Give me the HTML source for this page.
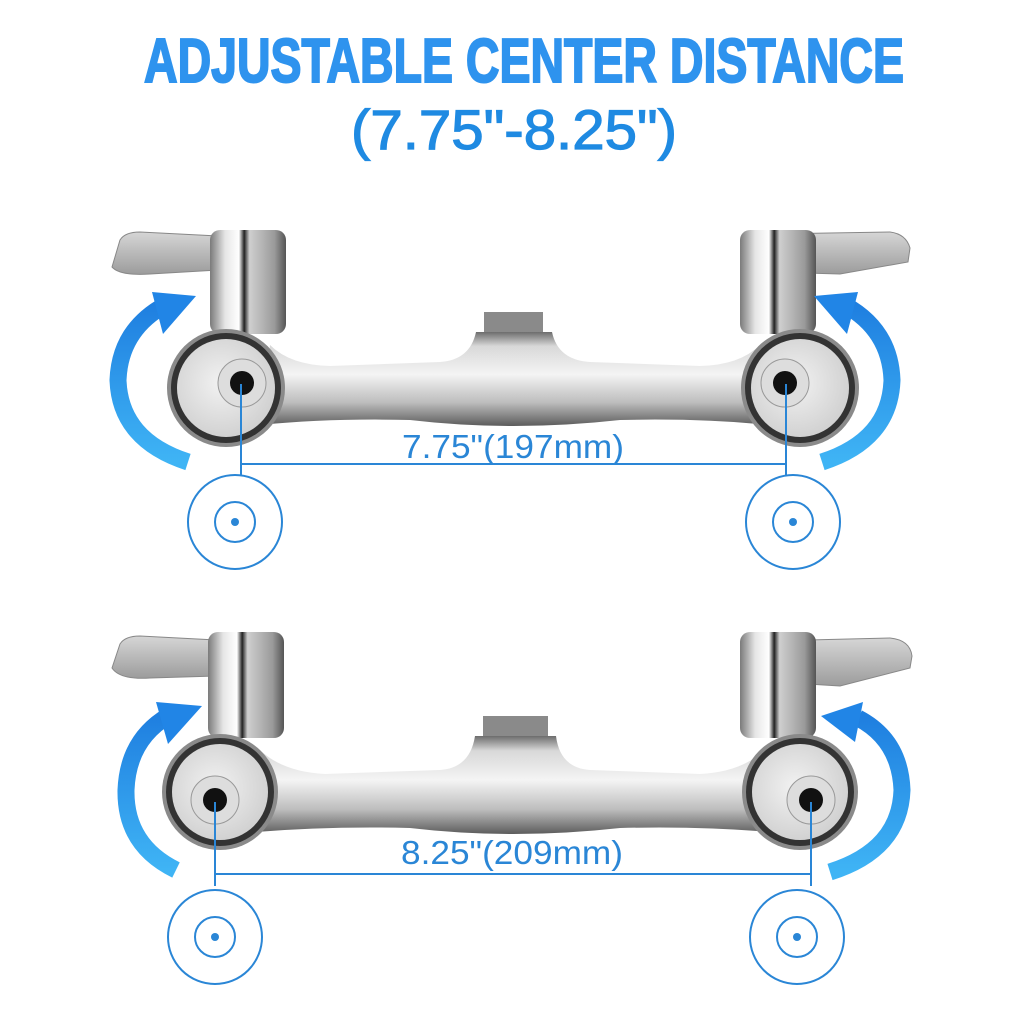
<!DOCTYPE html>
<html><head><meta charset="utf-8"><style>html,body{margin:0;padding:0;background:#fff}svg{display:block}</style></head>
<body>
<svg width="1024" height="1024" viewBox="0 0 1024 1024" xmlns="http://www.w3.org/2000/svg">
<defs>
<linearGradient id="chrome" x1="0" y1="0" x2="0" y2="1">
<stop offset="0" stop-color="#6d6d6d"/><stop offset="0.15" stop-color="#d8d8d8"/><stop offset="0.45" stop-color="#f4f4f4"/><stop offset="0.75" stop-color="#bdbdbd"/><stop offset="1" stop-color="#5c5c5c"/>
</linearGradient>
<linearGradient id="cyl" x1="0" y1="0" x2="1" y2="0">
<stop offset="0" stop-color="#7a7a7a"/><stop offset="0.2" stop-color="#e6e6e6"/><stop offset="0.38" stop-color="#ffffff"/><stop offset="0.45" stop-color="#222"/><stop offset="0.52" stop-color="#cfcfcf"/><stop offset="0.85" stop-color="#9a9a9a"/><stop offset="1" stop-color="#555"/>
</linearGradient>
<linearGradient id="lever" x1="0" y1="0" x2="0" y2="1">
<stop offset="0" stop-color="#d6d6d6"/><stop offset="1" stop-color="#9c9c9c"/>
</linearGradient>
<linearGradient id="arrow" x1="0" y1="0" x2="0" y2="1">
<stop offset="0" stop-color="#1f7fe0"/><stop offset="1" stop-color="#3fb4f5"/>
</linearGradient>
<radialGradient id="plate" cx="0.45" cy="0.45" r="0.6">
<stop offset="0" stop-color="#f2f2f2"/><stop offset="1" stop-color="#cfcfcf"/>
</radialGradient>
</defs>

<text x="524" y="82" font-family="Liberation Sans, sans-serif" font-weight="bold" font-size="62" fill="#2e93ee" stroke="#2e93ee" stroke-width="2" text-anchor="middle" textLength="760" lengthAdjust="spacingAndGlyphs">ADJUSTABLE CENTER DISTANCE</text>
<text x="514" y="149" font-family="Liberation Sans, sans-serif" font-size="56" fill="#1f8ae2" stroke="#1f8ae2" stroke-width="1.2" text-anchor="middle" textLength="326" lengthAdjust="spacingAndGlyphs">(7.75"-8.25")</text>

<!-- TOP FAUCET -->
<g>
<path d="M112 267 L120 240 Q125 232 140 232 L218 236 L218 270 L150 274 Q120 276 112 267Z" fill="url(#lever)" stroke="#888" stroke-width="1"/>
<path d="M770 234 L890 232 Q906 234 910 248 L908 262 L840 274 L770 272Z" fill="url(#lever)" stroke="#888" stroke-width="1"/>
<rect x="210" y="230" width="76" height="104" rx="10" fill="url(#cyl)"/>
<rect x="740" y="230" width="76" height="104" rx="10" fill="url(#cyl)"/>
<path d="M484 312 H543 V332 H484Z" fill="#8a8a8a"/>
<path d="M270 345 Q290 365 330 366 L440 362 Q470 360 476 332 H552 Q558 360 590 362 L700 366 Q740 365 760 345 L770 425 Q700 418 620 420 Q512 432 410 420 Q330 418 260 425Z" fill="url(#chrome)"/>
<circle cx="226" cy="388" r="59" fill="#8a8a8a"/><circle cx="226" cy="388" r="55" fill="#333"/><circle cx="226" cy="388" r="49" fill="url(#plate)"/>
<circle cx="800" cy="388" r="59" fill="#8a8a8a"/><circle cx="800" cy="388" r="55" fill="#333"/><circle cx="800" cy="388" r="49" fill="url(#plate)"/>
<circle cx="242" cy="383" r="24" fill="#ddd" stroke="#999"/><circle cx="242" cy="383" r="12" fill="#111"/>
<circle cx="785" cy="383" r="24" fill="#ddd" stroke="#999"/><circle cx="785" cy="383" r="12" fill="#111"/>
<path d="M188 462 Q120 440 118 380 Q120 330 165 305" fill="none" stroke="url(#arrow)" stroke-width="17"/>
<path d="M152 292 L196 296 L163 334Z" fill="#2185e6"/>
<path d="M822 462 Q890 440 892 380 Q890 330 845 305" fill="none" stroke="url(#arrow)" stroke-width="17"/>
<path d="M858 292 L814 296 L847 334Z" fill="#2185e6"/>
<g stroke="#2a86d6" stroke-width="2" fill="none">
<path d="M241 384 V475 M786 384 V475 M241 464 H786"/>
<circle cx="235" cy="522" r="47"/><circle cx="235" cy="522" r="20"/>
<circle cx="793" cy="522" r="47"/><circle cx="793" cy="522" r="20"/>
</g>
<circle cx="235" cy="522" r="4" fill="#2a86d6"/><circle cx="793" cy="522" r="4" fill="#2a86d6"/>
<text x="513" y="458" font-family="Liberation Sans, sans-serif" font-size="33" fill="#2a86d6" text-anchor="middle" textLength="222" lengthAdjust="spacingAndGlyphs">7.75"(197mm)</text>
</g>

<!-- BOTTOM FAUCET -->
<g>
<path d="M112 668 L120 644 Q125 636 140 636 L216 640 L216 676 L150 678 Q120 680 112 668Z" fill="url(#lever)" stroke="#888" stroke-width="1"/>
<path d="M808 640 L890 638 Q910 640 912 656 L910 668 L840 686 L808 684Z" fill="url(#lever)" stroke="#888" stroke-width="1"/>
<rect x="208" y="632" width="76" height="106" rx="10" fill="url(#cyl)"/>
<rect x="740" y="632" width="76" height="106" rx="10" fill="url(#cyl)"/>
<path d="M483 716 H548 V736 H483Z" fill="#8a8a8a"/>
<path d="M262 752 Q285 772 325 774 L440 770 Q470 768 475 736 H556 Q560 768 590 770 L700 774 Q740 772 762 752 L770 832 Q700 826 620 828 Q512 840 410 828 Q330 826 256 832Z" fill="url(#chrome)"/>
<circle cx="220" cy="792" r="58" fill="#8a8a8a"/><circle cx="220" cy="792" r="54" fill="#333"/><circle cx="220" cy="792" r="48" fill="url(#plate)"/>
<circle cx="800" cy="792" r="58" fill="#8a8a8a"/><circle cx="800" cy="792" r="54" fill="#333"/><circle cx="800" cy="792" r="48" fill="url(#plate)"/>
<circle cx="215" cy="800" r="24" fill="#ddd" stroke="#999"/><circle cx="215" cy="800" r="12" fill="#111"/>
<circle cx="811" cy="800" r="24" fill="#ddd" stroke="#999"/><circle cx="811" cy="800" r="12" fill="#111"/>
<path d="M176 870 Q125 845 126 790 Q128 740 168 716" fill="none" stroke="url(#arrow)" stroke-width="17"/>
<path d="M156 702 L202 706 L168 744Z" fill="#2185e6"/>
<path d="M830 872 Q900 850 902 790 Q900 740 858 718" fill="none" stroke="url(#arrow)" stroke-width="17"/>
<path d="M863 702 L821 716 L855 742Z" fill="#2185e6"/>
<g stroke="#2a86d6" stroke-width="2" fill="none">
<path d="M215 802 V886 M811 802 V886 M215 874 H811"/>
<circle cx="215" cy="937" r="47"/><circle cx="215" cy="937" r="20"/>
<circle cx="797" cy="937" r="47"/><circle cx="797" cy="937" r="20"/>
</g>
<circle cx="215" cy="937" r="4" fill="#2a86d6"/><circle cx="797" cy="937" r="4" fill="#2a86d6"/>
<text x="512" y="864" font-family="Liberation Sans, sans-serif" font-size="33" fill="#2a86d6" text-anchor="middle" textLength="222" lengthAdjust="spacingAndGlyphs">8.25"(209mm)</text>
</g>
</svg>
</body></html>
